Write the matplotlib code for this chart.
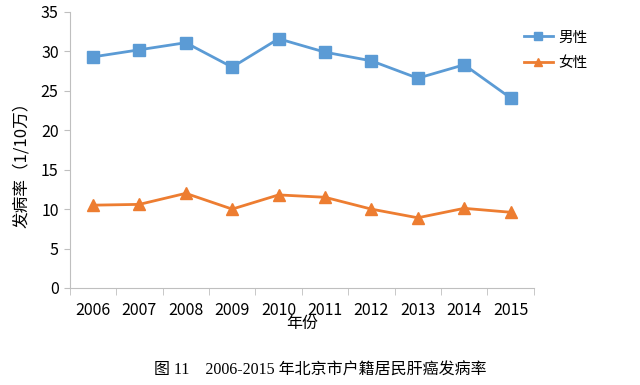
import numpy as np
import matplotlib
matplotlib.use("Agg")
from matplotlib import pyplot as plt

plt.rcParams['font.family'] = ['Noto Sans CJK SC', 'DejaVu Sans']

years = ['2006', '2007', '2008', '2009', '2010', '2011', '2012', '2013', '2014', '2015']
male = [29.3, 30.2, 31.1, 28.0, 31.6, 29.9, 28.8, 26.6, 28.3, 24.1]
female = [10.5, 10.6, 12.0, 10.0, 11.8, 11.5, 10.0, 8.9, 10.1, 9.6]

fig = plt.figure(figsize=(6.4, 3.85), dpi=100)
ax = fig.add_axes([0.109, 0.252, 0.725, 0.717])

x = np.arange(len(years))
ax.plot(x, male, color='#5B9BD5', lw=2, marker='s', ms=8.5, label='男性')
ax.plot(x, female, color='#ED7D31', lw=2, marker='^', ms=8.5, label='女性')

ax.set_xlim(-0.5, len(years) - 0.5)
ax.set_ylim(0, 35)
ax.set_yticks(range(0, 36, 5))
ax.set_xticks(x)
ax.set_xticklabels(years)
ax.set_xticks(np.arange(-0.5, len(years), 1), minor=True)
ax.tick_params(axis='x', which='major', length=0, pad=10, labelsize=11.5)
ax.tick_params(axis='x', which='minor', length=5, color='#BFBFBF')
ax.tick_params(axis='y', length=4, color='#BFBFBF', labelsize=11.5, pad=4)

for s in ['top', 'right']:
    ax.spines[s].set_visible(False)
for s in ['left', 'bottom']:
    ax.spines[s].set_color('#BFBFBF')

ax.set_xlabel('年份', fontsize=11.5, labelpad=-3)
ax.set_ylabel('发病率（1/10万）', fontsize=12)
ax.yaxis.set_label_coords(-0.085, 0.46)

ax.legend(loc='upper left', bbox_to_anchor=(0.95, 0.98), frameon=False,
          fontsize=10.5, handlelength=2.0, handletextpad=0.4,
          labelspacing=0.8, markerscale=0.6)

fig.text(0.5, 0.038, '图 11    2006-2015 年北京市户籍居民肝癌发病率',
         ha='center', va='center', fontsize=11.5,
         family=['Liberation Serif', 'Noto Sans CJK SC'])

fig.savefig('out.png', dpi=100)
